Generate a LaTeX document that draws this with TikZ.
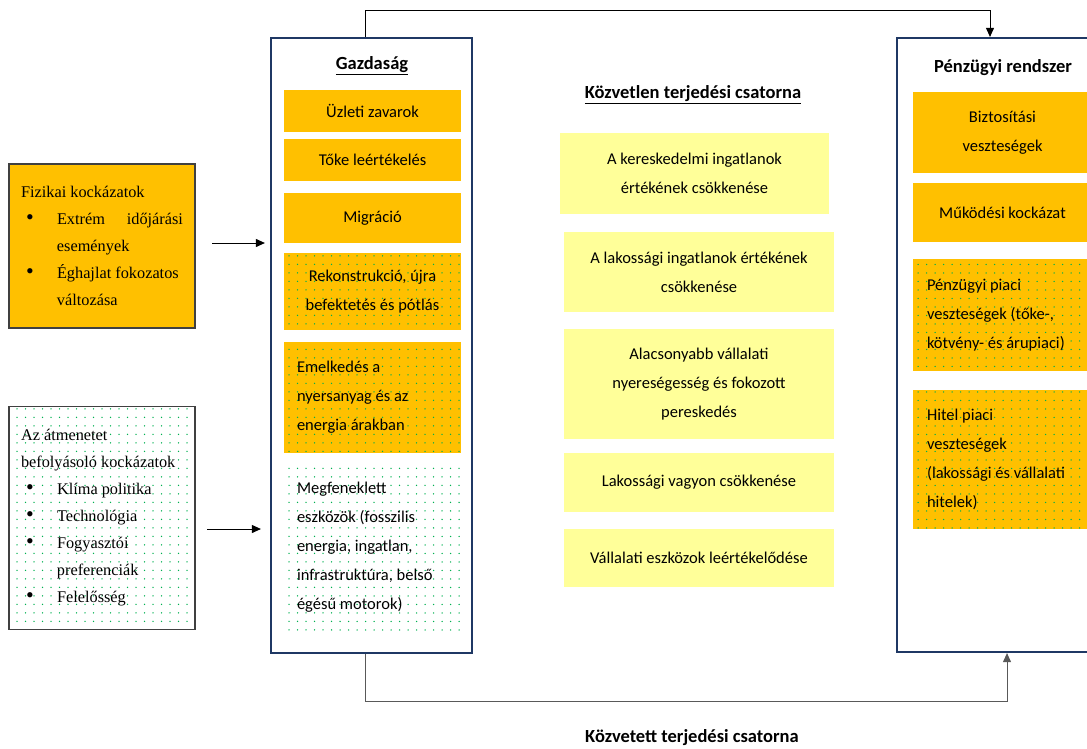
\documentclass[tikz,border=0pt]{standalone}
\usepackage{fontspec}
\setmainfont{Carlito}
\newfontfamily\timesfont{Liberation Serif}
\usetikzlibrary{arrows.meta,patterns.meta}
\definecolor{gold}{RGB}{255,192,0}
\definecolor{paleyellow}{RGB}{255,255,153}
\definecolor{dotgreen}{RGB}{0,176,80}
\definecolor{navy}{RGB}{31,56,100}
\newcommand\riskitem[1]{\par\hangindent=36pt\hangafter=1\noindent\makebox[36pt][l]{\hspace{5pt}{\fontsize{22}{27}\selectfont\textbullet}}#1}
\begin{document}
\begin{tikzpicture}[x=1pt, y=-1pt,
  every node/.append style={font=\fontsize{16.5}{29}\selectfont},
  flow/.style={-{Triangle[length=9pt,width=8pt]}, line width=0.9pt},
  dots/.style={pattern={Dots[distance=8.5pt,radius=0.75pt]}, pattern color=dotgreen},
  risk box/.style={rectangle, draw=black!75, line width=1.2pt, inner xsep=12pt, inner ysep=0pt, text width=162pt, minimum height=#1, align=flush left, font=\timesfont\fontsize{16.3}{27}\selectfont},
  frame box/.style={rectangle, draw=navy, line width=2.2pt, minimum width=#1, minimum height=615pt, inner sep=0pt},
  gold box/.style={rectangle, fill=gold, minimum width=177pt, minimum height=#1, inner sep=0pt, align=flush center},
  dot gold/.style={rectangle, preaction={fill=gold}, dots, minimum height=#1, inner sep=0pt},
  dot plain/.style={rectangle, dots, minimum height=#1, inner sep=0pt},
  left text/.style={align=flush left, text width=151pt, inner xsep=13pt},
  channel box/.style={rectangle, fill=paleyellow, minimum width=270pt, minimum height=#1, inner sep=0pt, align=flush center},
  title/.style={font=\bfseries\fontsize{18.5}{22}\selectfont}]
\useasboundingbox (0,0) rectangle (1087,749);

% risk sources
\node [risk box=164pt, fill=gold](fiz) at (102,246) {Fizikai kockázatok
  \riskitem{Extrém\hfill időjárási\newline események}
  \riskitem{Éghajlat fokozatos\newline változása}\par};
\node [risk box=223pt, dots](trans) at (102,518) {Az átmenetet\\
  befolyásoló kockázatok
  \riskitem{Klíma politika}
  \riskitem{Technológia}
  \riskitem{Fogyasztói\newline preferenciák}
  \riskitem{Felelősség}\par};

% economy
\node [frame box=201pt](econ) at (371.5,345.5) {};
\node [title](econtitle) at (372,66) {\underline{Gazdaság}};
\node [gold box=42pt](uzlet) at (372.5,111) {Üzleti zavarok};
\node [gold box=42pt](toke) at (372.5,160) {Tőke leértékelés};
\node [gold box=50pt](migr) at (372.5,218) {Migráció};
\node [dot gold=77pt, minimum width=177pt, align=flush center](rekon) at (372.5,291.5) {Rekonstrukció, újra\\befektetés és pótlás};
\node [dot gold=111pt, left text](emel) at (372.5,397.5) {Emelkedés a\\nyersanyag és az\\energia árakban};
\node [dot plain=165pt, left text](megf) at (372.5,547.5) {Megfeneklett\\eszközök (fosszilis\\energia, ingatlan,\\infrastruktúra, belső\\égésű motorok)};

% direct channel
\node [title](direct) at (693,95) {\underline{Közvetlen terjedési csatorna}};
\node [channel box=81pt, minimum width=269pt](ch1) at (694.5,173.5) {A kereskedelmi ingatlanok\\értékének csökkenése};
\node [channel box=80pt](ch2) at (699,272) {A lakossági ingatlanok értékének\\csökkenése};
\node [channel box=110pt](ch3) at (699,384) {Alacsonyabb vállalati\\nyereségesség és fokozott\\pereskedés};
\node [channel box=59pt](ch4) at (699,482.5) {Lakossági vagyon csökkenése};
\node [channel box=58pt](ch5) at (699,558) {Vállalati eszközok leértékelődése};

% financial system
\node [frame box=196pt, minimum height=614pt](fin) at (995,345) {};
\node [title](fintitle) at (1003,68) {Pénzügyi rendszer};
\node [gold box=81pt, minimum width=179pt](ins) at (1002.5,132.5) {Biztosítási\\veszteségek};
\node [gold box=59pt, minimum width=179pt](oper) at (1002.5,212.5) {Működési kockázat};
\node [dot gold=112pt, align=flush left, text width=151pt, inner xsep=14pt](market) at (1002.5,315) {Pénzügyi piaci\\veszteségek (tőke-,\\kötvény- és árupiaci)};
\node [dot gold=139pt, align=flush left, text width=151pt, inner xsep=14pt](credit) at (1002.5,459.5) {Hitel piaci\\veszteségek\\(lakossági és vállalati\\hitelek)};

\node [title](indirect) at (692,738) {Közvetett terjedési csatorna};

% connectors
\coordinate (fizout) at (212,243);
\coordinate (transout) at (207,529);
\draw [flow, shorten >=5pt] (fizout) -- (fizout -| econ.west);
\draw [flow, shorten >=9pt] (transout) -- (transout -| econ.west);
\draw [flow] ([xshift=-6.5pt]econ.north) -- ++(0,-26) -| ([xshift=-5pt]fin.north);
\draw [flow, draw=black!65] ([xshift=-6.5pt]econ.south) -- ++(0,47) -| ([xshift=12pt]fin.south);
\end{tikzpicture}
\end{document}
